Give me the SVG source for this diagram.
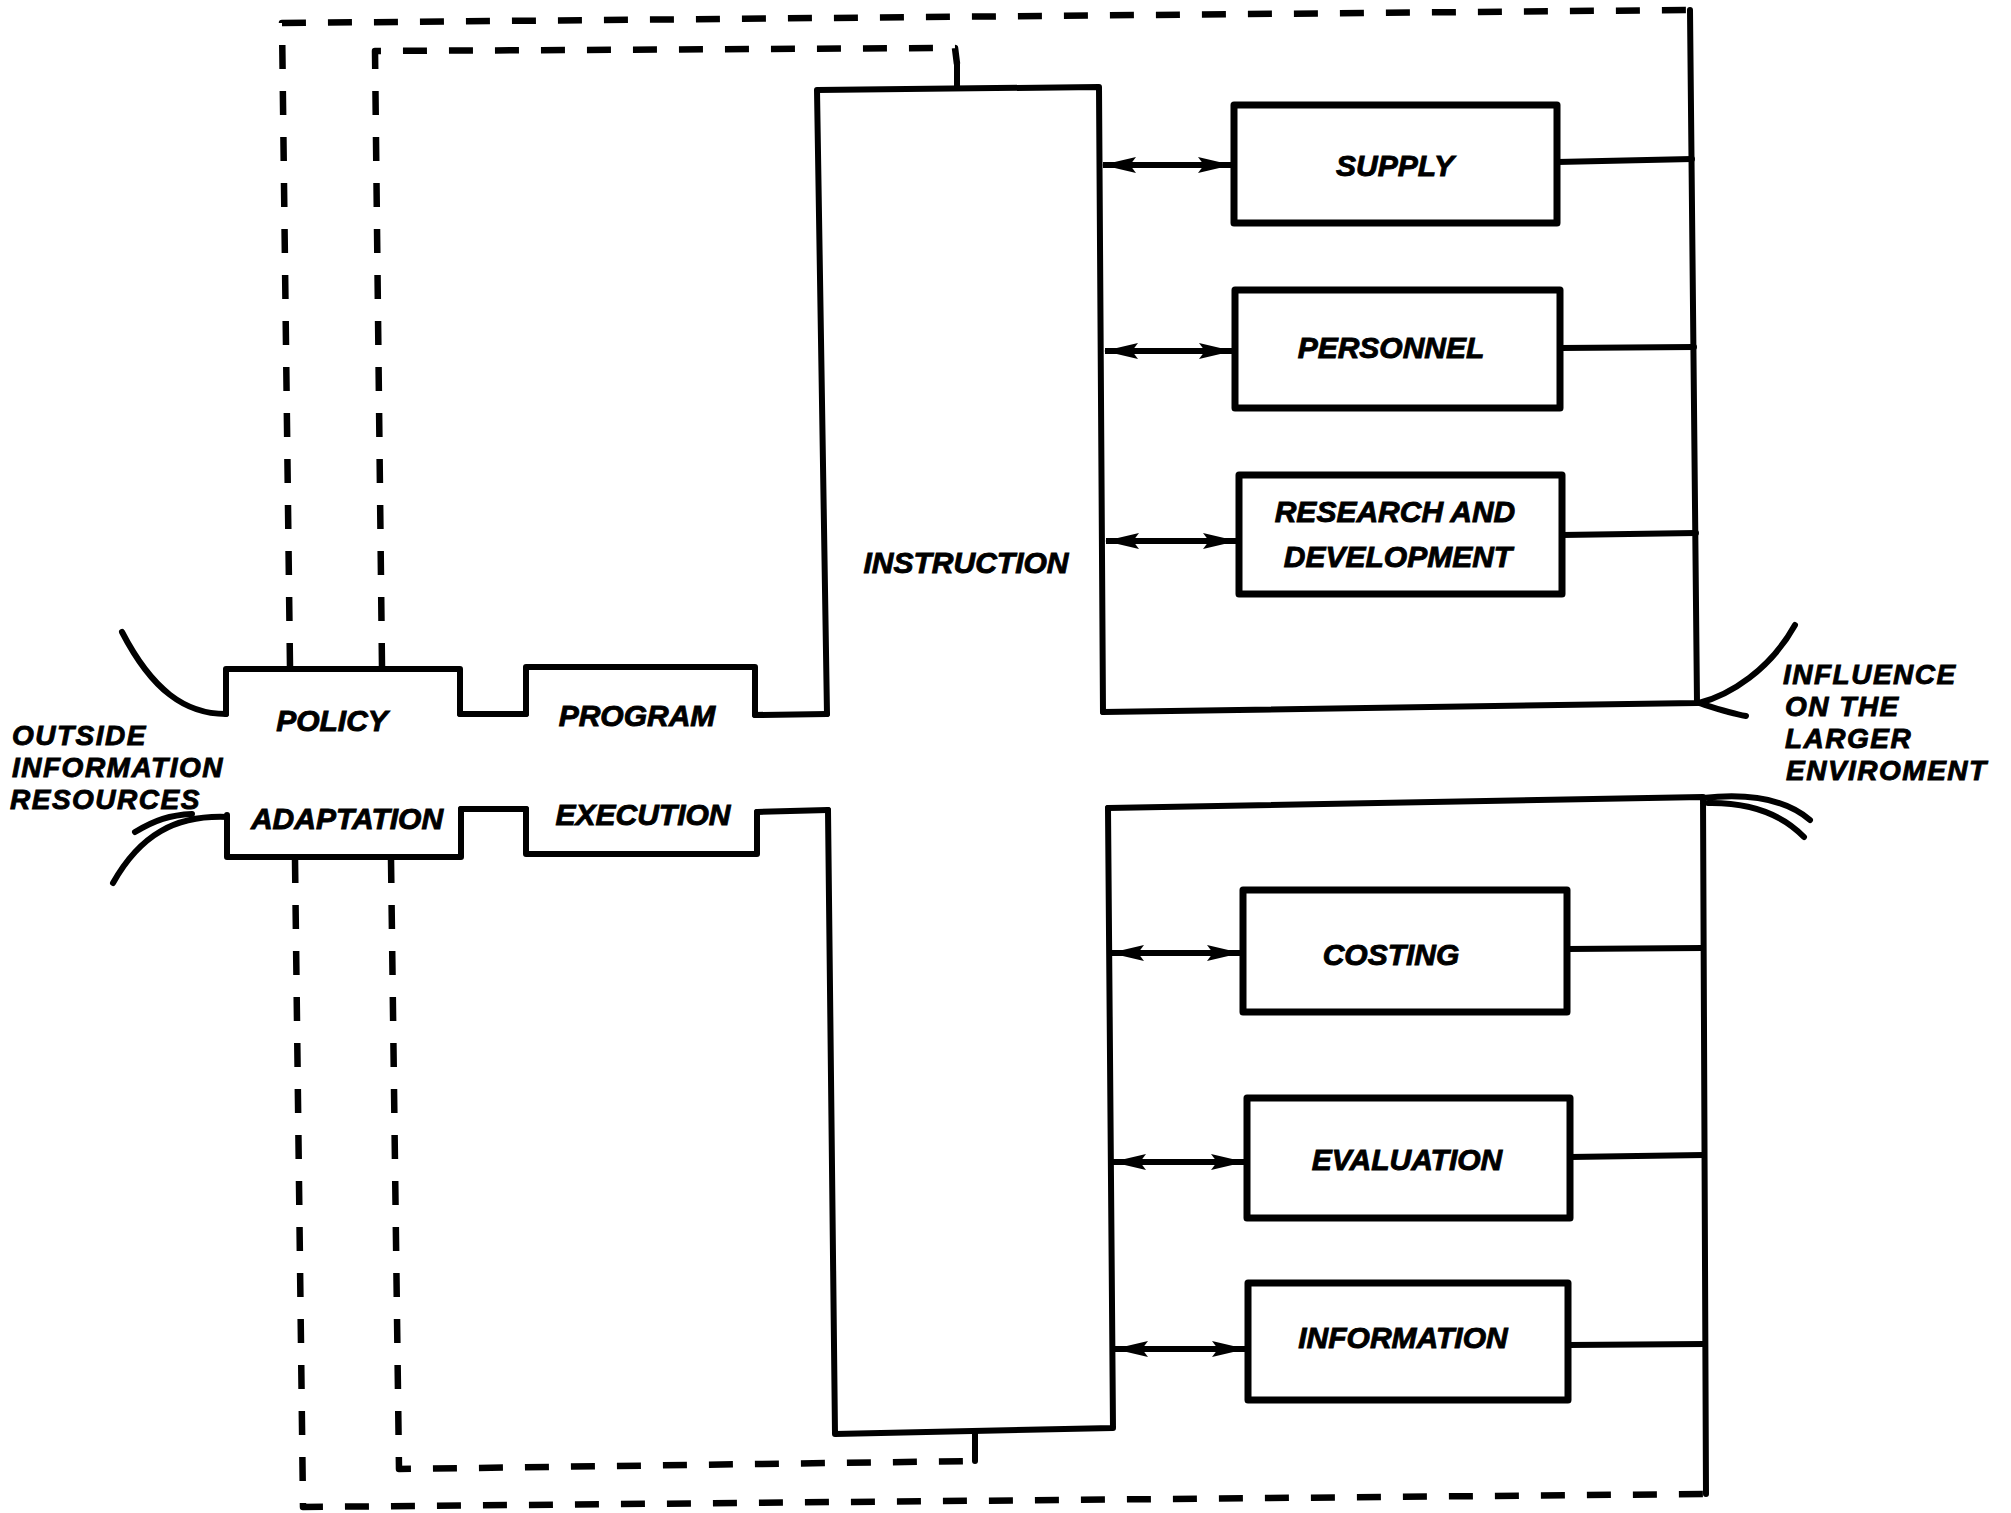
<svg xmlns="http://www.w3.org/2000/svg" width="2011" height="1513" viewBox="0 0 2011 1513">
  <style>
    .ln { fill: none; stroke: #000; stroke-width: 6; stroke-linejoin: round; stroke-linecap: round; }
    .box { fill: #fff; stroke: #000; stroke-width: 7; stroke-linejoin: round; }
    .dash { fill: none; stroke: #000; stroke-width: 6.5; stroke-dasharray: 24 22; stroke-linejoin: round; }
    .arr { fill: none; stroke: #000; stroke-width: 6; marker-start: url(#head); marker-end: url(#head); }
    .t { font-family: "Liberation Sans", Arial, sans-serif; font-weight: bold; font-style: italic; font-size: 30px; fill: #000; stroke: #000; stroke-width: 0.9; text-anchor: middle; }
    .side { font-family: "Liberation Sans", Arial, sans-serif; font-weight: bold; font-style: italic; font-size: 28px; letter-spacing: 1.5px; fill: #000; stroke: #000; stroke-width: 0.9; text-anchor: start; }
  </style>
  <defs>
    <marker id="head" viewBox="0 0 34 18" refX="33" refY="9" markerWidth="34" markerHeight="18" markerUnits="userSpaceOnUse" orient="auto-start-reverse">
      <path d="M0,1 L34,9 L0,17 L6,9 z" fill="#000"/>
    </marker>
  </defs>
  <rect width="2011" height="1513" fill="#fff"/>

  <!-- feedback loops, bus lines and links -->
  <g id="connectors">
    <!-- dashed feedback loops -->
    <path class="dash" d="M290,667 L282,23 L1688,10"/>
    <path class="dash" d="M382,667 L375,51 L955,48 L957,64"/>
    <path class="ln" d="M957,64 L957,88"/>
    <path class="dash" d="M295,859 L303,1507 L1705,1494"/>
    <path class="dash" d="M391,859 L399,1469 L975,1461"/>
    <path class="ln" d="M975,1461 L975,1433"/>

    <!-- right-hand buses -->
    <path class="ln" d="M1103,712 L1697,703 L1690,10"/>
    <path class="ln" d="M1108,808 L1703,797 L1706,1494"/>

    <!-- links between the stepped blocks -->
    <path class="ln" d="M460,714 L526,714"/>
    <path class="ln" d="M755,715 L827,714"/>
    <path class="ln" d="M461,809 L526,809"/>
    <path class="ln" d="M757,812 L828,810"/>

    <!-- two-way arrows to the support functions -->
    <path class="arr" d="M1103,165 L1231,165"/>
    <path class="arr" d="M1105,351 L1232,351"/>
    <path class="arr" d="M1106,541 L1236,541"/>
    <path class="arr" d="M1111,953 L1240,953"/>
    <path class="arr" d="M1113,1162 L1244,1162"/>
    <path class="arr" d="M1115,1349 L1245,1349"/>

    <!-- lines from the support functions to the buses -->
    <path class="ln" d="M1557,162 L1692,159"/>
    <path class="ln" d="M1560,348 L1694,347"/>
    <path class="ln" d="M1562,535 L1696,533"/>
    <path class="ln" d="M1567,949 L1703,948"/>
    <path class="ln" d="M1570,1157 L1704,1155"/>
    <path class="ln" d="M1568,1345 L1705,1344"/>

    <!-- inflow and outflow curves -->
    <path class="ln" d="M122,632 C152,690 185,714 226,714"/>
    <path class="ln" d="M113,883 C140,835 175,815 227,817"/>
    <path class="ln" d="M135,832 C155,820 170,815 192,814"/>
    <path class="ln" d="M1795,625 C1770,670 1730,695 1699,703"/>
    <path class="ln" d="M1699,703 C1715,708 1730,713 1746,716"/>
    <path class="ln" d="M1703,798 Q1775,790 1810,820"/>
    <path class="ln" d="M1708,803 Q1770,802 1804,837"/>
  </g>

  <g id="instruction">
    <path class="ln" d="M827,714 L817,90 L1099,87 L1103,712"/>
    <path class="ln" d="M828,810 L835,1434 L1113,1428 L1108,808"/>
    <text class="t" x="966" y="573">INSTRUCTION</text>
  </g>

  <g id="policy">
    <path class="ln" d="M226,714 L226,669 L460,669 L460,714"/>
    <text class="t" x="332" y="731">POLICY</text>
  </g>
  <g id="program">
    <path class="ln" d="M526,714 L526,667 L755,667 L755,715"/>
    <text class="t" x="637" y="726">PROGRAM</text>
  </g>
  <g id="adaptation">
    <path class="ln" d="M227,815 L227,857 L461,857 L461,809"/>
    <text class="t" x="347" y="829">ADAPTATION</text>
  </g>
  <g id="execution">
    <path class="ln" d="M526,809 L526,854 L757,854 L757,812"/>
    <text class="t" x="643" y="825">EXECUTION</text>
  </g>

  <g id="supply">
    <rect class="box" x="1234" y="105" width="323" height="118"/>
    <text class="t" x="1395" y="176">SUPPLY</text>
  </g>
  <g id="personnel">
    <rect class="box" x="1235" y="290" width="325" height="118"/>
    <text class="t" x="1391" y="358">PERSONNEL</text>
  </g>
  <g id="research">
    <rect class="box" x="1239" y="475" width="323" height="119"/>
    <text class="t" x="1395" y="522">RESEARCH AND</text>
    <text class="t" x="1398" y="567">DEVELOPMENT</text>
  </g>
  <g id="costing">
    <rect class="box" x="1243" y="890" width="324" height="122"/>
    <text class="t" x="1391" y="965">COSTING</text>
  </g>
  <g id="evaluation">
    <rect class="box" x="1247" y="1098" width="323" height="120"/>
    <text class="t" x="1407" y="1170">EVALUATION</text>
  </g>
  <g id="information">
    <rect class="box" x="1248" y="1283" width="320" height="117"/>
    <text class="t" x="1403" y="1348">INFORMATION</text>
  </g>

  <g id="outside-resources">
    <text class="side" x="12" y="745">OUTSIDE</text>
    <text class="side" x="12" y="777">INFORMATION</text>
    <text class="side" x="10" y="809">RESOURCES</text>
  </g>
  <g id="larger-environment">
    <text class="side" x="1783" y="684">INFLUENCE</text>
    <text class="side" x="1785" y="716">ON THE</text>
    <text class="side" x="1785" y="748">LARGER</text>
    <text class="side" x="1786" y="780">ENVIROMENT</text>
  </g>
</svg>
